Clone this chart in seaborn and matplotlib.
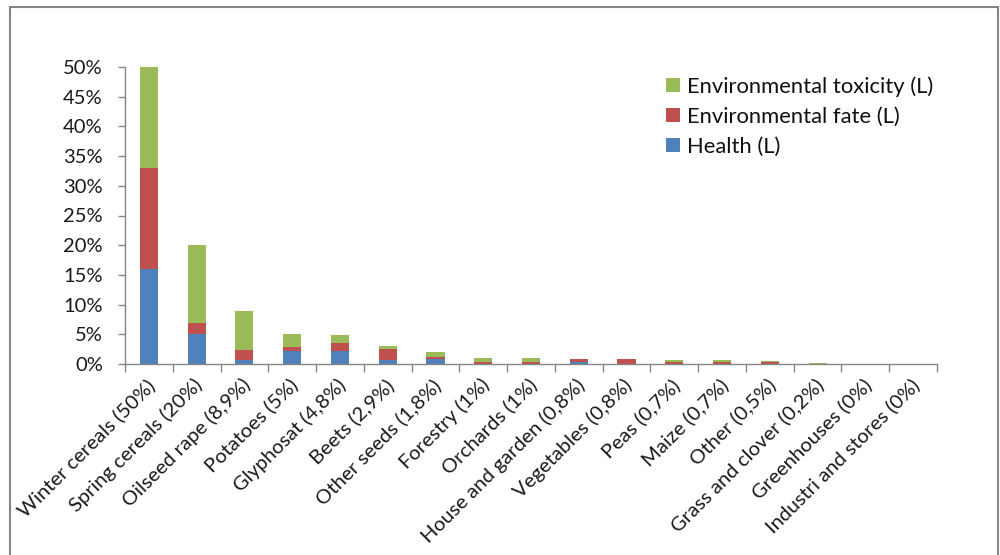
import matplotlib
matplotlib.use("Agg")
import matplotlib.pyplot as plt
import matplotlib.transforms as mtransforms
from matplotlib.patches import Rectangle, Patch
from matplotlib.ticker import PercentFormatter, FixedLocator
import numpy as np
import pandas as pd
import seaborn as sns

categories = ["Winter cereals (50%)", "Spring cereals (20%)", "Oilseed rape (8,9%)",
              "Potatoes (5%)", "Glyphosat (4,8%)", "Beets (2,9%)", "Other seeds (1,8%)",
              "Forestry (1%)", "Orchards (1%)", "House and garden (0,8%)",
              "Vegetables (0,8%)", "Peas (0,7%)", "Maize (0,7%)", "Other (0,5%)",
              "Grass and clover (0,2%)", "Greenhouses (0%)", "Industri and stores (0%)"]
health = [16, 5, 0.7, 2.2, 2.2, 0.7, 0.8, 0, 0, 0.4, 0, 0, 0, 0, 0, 0, 0]
env_fate = [17, 1.9, 1.6, 0.6, 1.4, 1.8, 0.3, 0.3, 0.3, 0.4, 0.8, 0.3, 0.3, 0.4, 0, 0, 0]
env_tox = [17, 13.2, 6.6, 2.2, 1.2, 0.5, 0.9, 0.7, 0.7, 0, 0, 0.4, 0.4, 0.1, 0.2, 0, 0]
series_names = ["Environmental toxicity (L)", "Environmental fate (L)", "Health (L)"]
colors = ["#9BBB59", "#C0504D", "#4F81BD"]

sns.set_style("white")
plt.rcParams["font.family"] = ["Lato", "DejaVu Sans"]

df = pd.DataFrame({"category": categories, "health": health,
                   "fate": env_fate, "tox": env_tox})
df["cum_fate"] = df["health"] + df["fate"]
df["cum_tox"] = df["cum_fate"] + df["tox"]

fig = plt.figure(figsize=(10, 5.55), dpi=100)
ax = fig.add_axes([0.125, 1 - 364 / 555, 0.937 - 0.125, (364 - 67) / 555])

for col, c in zip(["cum_tox", "cum_fate", "health"], colors):
    sns.barplot(data=df, x="category", y=col, color=c, width=0.38,
                linewidth=0, saturation=1, ax=ax, order=categories)

ax.set_xlim(-0.5, len(categories) - 0.5)
ax.set_ylim(0, 50)
ax.set_xlabel("")
ax.set_ylabel("")
ax.yaxis.set_major_locator(FixedLocator(np.arange(0, 51, 5)))
ax.yaxis.set_major_formatter(PercentFormatter(100, decimals=0))

for s in ["top", "right"]:
    ax.spines[s].set_visible(False)
for s in ["left", "bottom"]:
    ax.spines[s].set_color("#868686")
    ax.spines[s].set_linewidth(1.0)

ax.tick_params(axis="y", which="major", direction="out", length=5, width=1,
               color="#868686", pad=11, labelsize=14.5, labelcolor="#1a1a1a", left=True)
ax.set_xticks(np.arange(-0.5, len(categories), 1.0), minor=True)
ax.tick_params(axis="x", which="minor", direction="out", length=6, width=1,
               color="#868686", bottom=True)
ax.tick_params(axis="x", which="major", length=0, pad=13, labelsize=14.6,
               labelcolor="#1a1a1a")
offset = mtransforms.ScaledTranslation(3 / 100, 0, fig.dpi_scale_trans)
for lbl in ax.get_xticklabels():
    lbl.set_rotation(45)
    lbl.set_ha("right")
    lbl.set_va("center")
    lbl.set_rotation_mode("anchor")
    lbl.set_transform(lbl.get_transform() + offset)

handles = [Patch(facecolor=c, edgecolor="none") for c in colors]
fig.legend(handles, series_names, loc="upper left",
           bbox_to_anchor=(666 / 1000, 1 - 76 / 555), frameon=False,
           fontsize=15.8, borderpad=0, borderaxespad=0, handlelength=0.62,
           handleheight=0.62, handletextpad=0.35, labelspacing=0.46,
           labelcolor="#111111")

fig.patches.append(Rectangle((10 / 1000, -0.02), (998 - 10) / 1000, 1.02 - 7 / 555,
                             transform=fig.transFigure, fill=False,
                             edgecolor="#868686", linewidth=1.5))

fig.savefig("out.png", dpi=100, facecolor="white")
